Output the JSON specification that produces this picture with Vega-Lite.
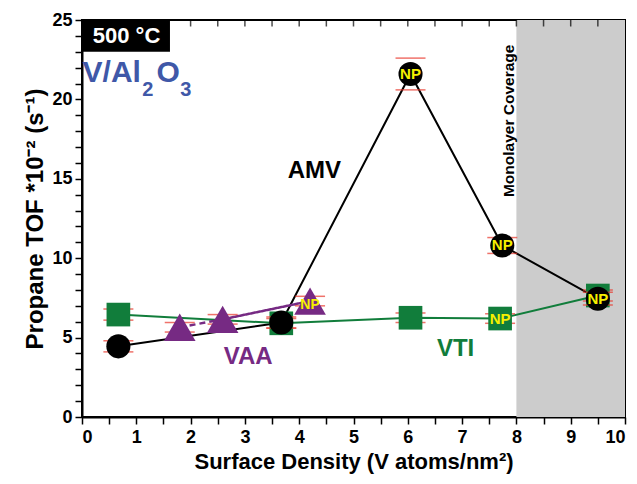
{
  "$schema": "https://vega.github.io/schema/vega-lite/v6.json",
  "width": 543,
  "height": 397,
  "autosize": "none",
  "padding": {"left": 82, "top": 20, "right": 12, "bottom": 67},
  "background": "white",
  "config": {
    "view": {"stroke": "black", "strokeWidth": 2},
    "font": "Liberation Sans",
    "axis": {
      "domainColor": "black", "domainWidth": 2, "tickColor": "black", "tickWidth": 1.5,
      "labelFont": "Liberation Sans", "labelFontWeight": "bold", "labelFontSize": 18, "labelColor": "black",
      "titleFont": "Liberation Sans", "titleFontWeight": "bold", "titleFontSize": 22, "titleColor": "black",
      "grid": false, "labelOverlap": false
    }
  },
  "datasets": {
    "amv": [
      {"x": 0.67, "y": 4.45, "lo": 4.1, "hi": 4.8, "np": ""},
      {"x": 3.67, "y": 5.95, "lo": 5.6, "hi": 6.3, "np": ""},
      {"x": 6.05, "y": 21.6, "lo": 20.6, "hi": 22.6, "np": "NP"},
      {"x": 7.74, "y": 10.8, "lo": 10.3, "hi": 11.3, "np": "NP"},
      {"x": 9.5, "y": 7.45, "lo": 7.05, "hi": 7.85, "np": "NP"}
    ],
    "vti": [
      {"x": 0.67, "y": 6.45, "lo": 6.1, "hi": 6.8, "np": ""},
      {"x": 3.67, "y": 5.9, "lo": 5.6, "hi": 6.2, "np": ""},
      {"x": 6.05, "y": 6.25, "lo": 5.95, "hi": 6.55, "np": ""},
      {"x": 7.7, "y": 6.2, "lo": 5.9, "hi": 6.5, "np": "NP"},
      {"x": 9.5, "y": 7.65, "lo": 7.3, "hi": 8.0, "np": ""}
    ],
    "vaa": [
      {"x": 1.8, "y": 5.65, "lo": 5.35, "hi": 5.95, "np": ""},
      {"x": 2.59, "y": 6.15, "lo": 5.85, "hi": 6.45, "np": ""},
      {"x": 4.2, "y": 7.3, "lo": 7.0, "hi": 7.6, "np": "NP"}
    ],
    "vaaline": [
      {"x": 1.8, "y": 5.65, "seg": "a"},
      {"x": 2.59, "y": 6.15, "seg": "a"},
      {"x": 2.59, "y": 6.15, "seg": "b"},
      {"x": 4.2, "y": 7.3, "seg": "b"}
    ],
    "toptick": [
      {"x": 0.5, "y": 25}, {"x": 1, "y": 25}, {"x": 1.5, "y": 25}, {"x": 2, "y": 25}, {"x": 2.5, "y": 25},
      {"x": 3, "y": 25}, {"x": 3.5, "y": 25}, {"x": 4, "y": 25}, {"x": 4.5, "y": 25}, {"x": 5, "y": 25},
      {"x": 5.5, "y": 25}, {"x": 6, "y": 25}, {"x": 6.5, "y": 25}, {"x": 7, "y": 25}, {"x": 7.5, "y": 25},
      {"x": 8, "y": 25}, {"x": 8.5, "y": 25}, {"x": 9, "y": 25}, {"x": 9.5, "y": 25}
    ],
    "box": [{"x0": 8, "x1": 10, "y0": 0, "y1": 25}],
    "tempbox": [{"x0": 0, "x1": 1.62, "y0": 23.0, "y1": 25}],
    "labels": [
      {"x": 4.28, "y": 15.5, "t": "AMV", "c": "amv"},
      {"x": 3.06, "y": 3.78, "t": "VAA", "c": "vaa"},
      {"x": 6.88, "y": 4.29, "t": "VTI", "c": "vti"}
    ],
    "formula_big": [
      {"x": 0.01, "y": 21.12, "t": "V/Al"},
      {"x": 1.37, "y": 21.12, "t": "O"}
    ],
    "formula_small": [
      {"x": 1.11, "y": 20.24, "t": "2"},
      {"x": 1.81, "y": 20.24, "t": "3"}
    ]
  },
  "encoding": {
    "x": {"type": "quantitative", "scale": {"domain": [0, 10], "nice": false},
          "axis": {"values": [0,0.5,1,1.5,2,2.5,3,3.5,4,4.5,5,5.5,6,6.5,7,7.5,8,8.5,9,9.5,10],
                   "labelExpr": "datum.value % 1 === 0 ? format(datum.value, 'd') : ''",
                   "tickSize": 7, "labelPadding": 4, "title": "Surface Density (V atoms/nm²)", "titlePadding": 5}},
    "y": {"type": "quantitative", "scale": {"domain": [0, 25], "nice": false},
          "axis": {"values": [0,1,2,3,4,5,6,7,8,9,10,11,12,13,14,15,16,17,18,19,20,21,22,23,24,25],
                   "labelExpr": "datum.value % 5 === 0 ? format(datum.value, 'd') : ''",
                   "tickSize": 7, "labelPadding": 3, "title": "Propane TOF *10⁻² (s⁻¹)", "titleFontSize": 24, "titlePadding": 4}}
  },
  "layer": [
    {
      "data": {"name": "box"},
      "mark": {"type": "rect", "color": "#cccccc"},
      "encoding": {
        "x": {"field": "x0", "type": "quantitative"}, "x2": {"field": "x1"},
        "y": {"field": "y0", "type": "quantitative"}, "y2": {"field": "y1"}
      }
    },
    {
      "data": {"name": "toptick"},
      "mark": {"type": "tick", "orient": "vertical", "color": "black", "thickness": 1.5, "size": 13, "clip": true},
      "encoding": {"x": {"field": "x", "type": "quantitative"}, "y": {"field": "y", "type": "quantitative"}}
    },
    {
      "data": {"name": "tempbox"},
      "mark": {"type": "rect", "color": "black"},
      "encoding": {
        "x": {"field": "x0", "type": "quantitative"}, "x2": {"field": "x1"},
        "y": {"field": "y0", "type": "quantitative"}, "y2": {"field": "y1"}
      }
    },
    {
      "data": {"values": [{"x": 0.82, "y": 23.97, "t": "500 °C"}]},
      "mark": {"type": "text", "color": "white", "fontWeight": "bold", "fontSize": 22, "font": "Liberation Sans"},
      "encoding": {"x": {"field": "x", "type": "quantitative"}, "y": {"field": "y", "type": "quantitative"}, "text": {"field": "t"}}
    },
    {
      "data": {"name": "formula_big"},
      "mark": {"type": "text", "color": "#3f58a8", "fontWeight": "bold", "fontSize": 30, "align": "left", "baseline": "alphabetic", "font": "Liberation Sans"},
      "encoding": {"x": {"field": "x", "type": "quantitative"}, "y": {"field": "y", "type": "quantitative"}, "text": {"field": "t"}}
    },
    {
      "data": {"name": "formula_small"},
      "mark": {"type": "text", "color": "#3f58a8", "fontWeight": "bold", "fontSize": 20, "align": "left", "baseline": "alphabetic", "font": "Liberation Sans"},
      "encoding": {"x": {"field": "x", "type": "quantitative"}, "y": {"field": "y", "type": "quantitative"}, "text": {"field": "t"}}
    },
    {
      "data": {"values": [{"x": 7.86, "y": 18.65, "t": "Monolayer Coverage"}]},
      "mark": {"type": "text", "color": "black", "fontWeight": "bold", "fontSize": 15.5, "angle": 270, "font": "Liberation Sans"},
      "encoding": {"x": {"field": "x", "type": "quantitative"}, "y": {"field": "y", "type": "quantitative"}, "text": {"field": "t"}}
    },
    {
      "data": {"name": "amv"},
      "mark": {"type": "line", "color": "black", "strokeWidth": 2},
      "encoding": {"x": {"field": "x", "type": "quantitative"}, "y": {"field": "y", "type": "quantitative"}}
    },
    {
      "data": {"name": "vti"},
      "mark": {"type": "line", "color": "#117d3b", "strokeWidth": 2},
      "encoding": {"x": {"field": "x", "type": "quantitative"}, "y": {"field": "y", "type": "quantitative"}}
    },
    {
      "data": {"name": "vaaline"},
      "mark": {"type": "line", "color": "#762a83", "strokeWidth": 2.5},
      "encoding": {
        "x": {"field": "x", "type": "quantitative"}, "y": {"field": "y", "type": "quantitative"},
        "detail": {"field": "seg"},
        "strokeDash": {"field": "seg", "type": "nominal", "scale": {"domain": ["a", "b"], "range": [[6, 4], [1, 0]]}, "legend": null}
      }
    },
    {
      "data": {"name": "vti"},
      "layer": [
        {"mark": {"type": "tick", "orient": "horizontal", "color": "#e8362b", "thickness": 1.5, "size": 30}, "encoding": {"x": {"field": "x", "type": "quantitative"}, "y": {"field": "lo", "type": "quantitative"}}},
        {"mark": {"type": "tick", "orient": "horizontal", "color": "#e8362b", "thickness": 1.5, "size": 30}, "encoding": {"x": {"field": "x", "type": "quantitative"}, "y": {"field": "hi", "type": "quantitative"}}},
        {"mark": {"type": "point", "shape": "square", "filled": true, "opacity": 1, "color": "#117d3b", "size": 560}, "encoding": {"x": {"field": "x", "type": "quantitative"}, "y": {"field": "y", "type": "quantitative"}}},
        {"mark": {"type": "text", "color": "#f5f000", "fontWeight": "bold", "fontSize": 15, "font": "Liberation Sans"}, "encoding": {"x": {"field": "x", "type": "quantitative"}, "y": {"field": "y", "type": "quantitative"}, "text": {"field": "np"}}}
      ]
    },
    {
      "data": {"name": "vaa"},
      "layer": [
        {"mark": {"type": "tick", "orient": "horizontal", "color": "#e8362b", "thickness": 1.5, "size": 30}, "encoding": {"x": {"field": "x", "type": "quantitative"}, "y": {"field": "lo", "type": "quantitative"}}},
        {"mark": {"type": "tick", "orient": "horizontal", "color": "#e8362b", "thickness": 1.5, "size": 30}, "encoding": {"x": {"field": "x", "type": "quantitative"}, "y": {"field": "hi", "type": "quantitative"}}},
        {"mark": {"type": "point", "shape": "triangle-up", "filled": true, "opacity": 1, "color": "#762a83", "size": 1000}, "encoding": {"x": {"field": "x", "type": "quantitative"}, "y": {"field": "y", "type": "quantitative"}}},
        {"mark": {"type": "text", "color": "#f5f000", "fontWeight": "bold", "fontSize": 14, "font": "Liberation Sans", "dy": 4}, "encoding": {"x": {"field": "x", "type": "quantitative"}, "y": {"field": "y", "type": "quantitative"}, "text": {"field": "np"}}}
      ]
    },
    {
      "data": {"name": "amv"},
      "layer": [
        {"mark": {"type": "tick", "orient": "horizontal", "color": "#e8362b", "thickness": 1.5, "size": 30}, "encoding": {"x": {"field": "x", "type": "quantitative"}, "y": {"field": "lo", "type": "quantitative"}}},
        {"mark": {"type": "tick", "orient": "horizontal", "color": "#e8362b", "thickness": 1.5, "size": 30}, "encoding": {"x": {"field": "x", "type": "quantitative"}, "y": {"field": "hi", "type": "quantitative"}}},
        {"mark": {"type": "point", "shape": "circle", "filled": true, "opacity": 1, "color": "black", "size": 580}, "encoding": {"x": {"field": "x", "type": "quantitative"}, "y": {"field": "y", "type": "quantitative"}}},
        {"mark": {"type": "text", "color": "#f5f000", "fontWeight": "bold", "fontSize": 15, "font": "Liberation Sans"}, "encoding": {"x": {"field": "x", "type": "quantitative"}, "y": {"field": "y", "type": "quantitative"}, "text": {"field": "np"}}}
      ]
    },
    {
      "data": {"name": "labels"},
      "mark": {"type": "text", "fontWeight": "bold", "fontSize": 24, "font": "Liberation Sans"},
      "encoding": {
        "x": {"field": "x", "type": "quantitative"}, "y": {"field": "y", "type": "quantitative"},
        "text": {"field": "t"},
        "color": {"field": "c", "type": "nominal", "scale": {"domain": ["amv", "vaa", "vti"], "range": ["black", "#762a83", "#117d3b"]}, "legend": null}
      }
    }
  ]
}
